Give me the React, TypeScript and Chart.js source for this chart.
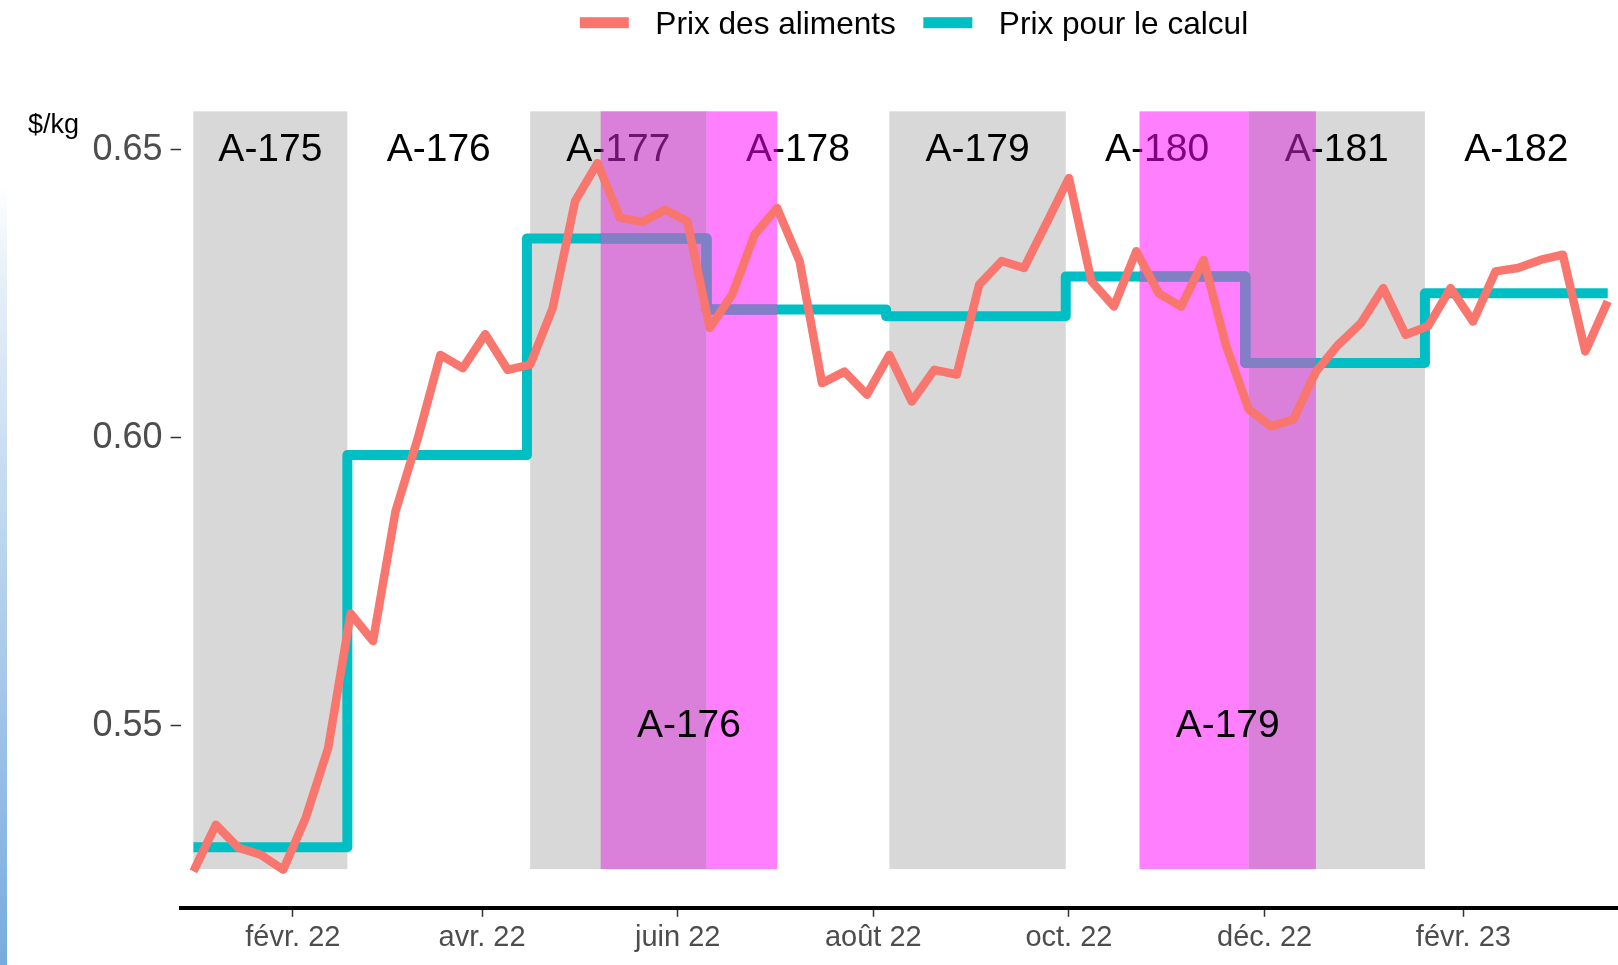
import React, { useEffect, useRef } from "react";
import { Chart, registerables } from "chart.js";

Chart.register(...registerables);

const FONT = "'Liberation Sans', Arial, Helvetica, sans-serif";

// ---- data ----
const priceDates = [
  "2022-01-01", "2022-01-08", "2022-01-15", "2022-01-22", "2022-01-29",
  "2022-02-05", "2022-02-12", "2022-02-19", "2022-02-26",
  "2022-03-05", "2022-03-12", "2022-03-19", "2022-03-26",
  "2022-04-02", "2022-04-09", "2022-04-16", "2022-04-23", "2022-04-30",
  "2022-05-07", "2022-05-14", "2022-05-21", "2022-05-28",
  "2022-06-04", "2022-06-11", "2022-06-18", "2022-06-25",
  "2022-07-02", "2022-07-09", "2022-07-16", "2022-07-23", "2022-07-30",
  "2022-08-06", "2022-08-13", "2022-08-20", "2022-08-27",
  "2022-09-03", "2022-09-10", "2022-09-17", "2022-09-24",
  "2022-10-01", "2022-10-08", "2022-10-15", "2022-10-22", "2022-10-29",
  "2022-11-05", "2022-11-12", "2022-11-19", "2022-11-26",
  "2022-12-03", "2022-12-10", "2022-12-17", "2022-12-24", "2022-12-31",
  "2023-01-07", "2023-01-14", "2023-01-21", "2023-01-28",
  "2023-02-04", "2023-02-11", "2023-02-18", "2023-02-25",
  "2023-03-04", "2023-03-11", "2023-03-18",
];
const priceValues = [
  0.5247, 0.5328, 0.5288, 0.5276, 0.525,
  0.534, 0.5461, 0.5695, 0.5647,
  0.5872, 0.6, 0.6144, 0.6121,
  0.618, 0.6118, 0.6127, 0.6225, 0.6411,
  0.6477, 0.6382, 0.6375, 0.6396,
  0.6376, 0.6191, 0.6249, 0.6353,
  0.6399, 0.6307, 0.6095, 0.6115, 0.6075,
  0.6144, 0.6063, 0.6118, 0.611,
  0.6266, 0.6307, 0.6295, 0.6373,
  0.6451, 0.6272, 0.6228, 0.6324, 0.6251,
  0.6228, 0.6309, 0.616, 0.605,
  0.602, 0.6032, 0.6115, 0.6162, 0.6199,
  0.626, 0.6179, 0.6194, 0.626,
  0.6202, 0.6289, 0.6295, 0.6309,
  0.6318, 0.615, 0.6237,
];

const calcDates = [
  "2022-01-01", "2022-02-18", "2022-04-15", "2022-06-10", "2022-08-05",
  "2022-09-30", "2022-11-25", "2023-01-20", "2023-03-18",
];
const calcValues = [0.5289, 0.597, 0.6346, 0.6223, 0.6211, 0.628, 0.613, 0.6251, 0.6251];

const periodNames = ["A-175", "A-176", "A-177", "A-178", "A-179", "A-180", "A-181", "A-182"];
const periodStarts = [
  "2022-01-01", "2022-02-19", "2022-04-16", "2022-06-11",
  "2022-08-06", "2022-10-01", "2022-11-26", "2023-01-21",
];
const periodEnds = [
  "2022-02-18", "2022-04-15", "2022-06-10", "2022-08-05",
  "2022-09-30", "2022-11-25", "2023-01-20", "2023-03-17",
];
const periodShaded = [true, false, true, false, true, false, true, false];

const appliedNames = ["A-176", "A-179"];
const appliedStarts = ["2022-05-08", "2022-10-23"];
const appliedEnds = ["2022-07-02", "2022-12-17"];

const bandRange = [0.5251, 0.6567];
const topLabelValue = 0.65;
const bottomLabelValue = 0.55;

const yTickValues = [0.55, 0.6, 0.65];
const xTickDates = [
  "2022-02-01", "2022-04-01", "2022-06-01", "2022-08-01",
  "2022-10-01", "2022-12-01", "2023-02-01",
];
const xTickLabels = ["févr. 22", "avr. 22", "juin 22", "août 22", "oct. 22", "déc. 22", "févr. 23"];

const seriesNames = ["Prix des aliments", "Prix pour le calcul"];
const seriesColors = ["#F8766D", "#00BFC4"];
const calcTintedColor = "#8280c4";

// ---- helpers ----
const ORIGIN = Date.UTC(2022, 0, 1);
function day(s: string): number {
  const [y, m, d] = s.split("-").map(Number);
  return (Date.UTC(y, m - 1, d) - ORIGIN) / 86400000;
}

const TEXT_DY = 0.5;

const bandsPlugin = {
  id: "bands",
  beforeDatasetsDraw(chart: any) {
    const { ctx, chartArea } = chart;
    const xs = chart.scales.x;
    const ys = chart.scales.y;
    const yTop = ys.getPixelForValue(bandRange[1]);
    const yBot = ys.getPixelForValue(bandRange[0]);
    ctx.save();
    ctx.beginPath();
    ctx.rect(chartArea.left, chartArea.top, chartArea.right - chartArea.left, chartArea.bottom - chartArea.top);
    ctx.clip();
    ctx.fillStyle = "rgba(127,127,127,0.3)";
    periodNames.forEach((_, i) => {
      if (!periodShaded[i]) return;
      const x0 = xs.getPixelForValue(day(periodStarts[i]));
      const x1 = xs.getPixelForValue(day(periodEnds[i]));
      ctx.fillRect(x0, yTop, x1 - x0, yBot - yTop);
    });
    ctx.restore();
  },
  afterDatasetDraw(chart: any, args: any) {
    if (args.index !== 0) return;
    const { ctx } = chart;
    const xs = chart.scales.x;
    const ys = chart.scales.y;
    const yTop = ys.getPixelForValue(bandRange[1]);
    const yBot = ys.getPixelForValue(bandRange[0]);
    ctx.save();
    // top period labels
    ctx.font = `39px ${FONT}`;
    ctx.fillStyle = "#000000";
    ctx.textAlign = "center";
    ctx.textBaseline = "middle";
    const ly = ys.getPixelForValue(topLabelValue) + TEXT_DY;
    periodNames.forEach((n, i) => {
      const mid = (day(periodStarts[i]) + day(periodEnds[i])) / 2;
      ctx.fillText(n, xs.getPixelForValue(mid), ly);
    });
    // magenta overlays
    const grayRanges = periodNames
      .map((_, i) => [day(periodStarts[i]), day(periodEnds[i]), periodShaded[i] ? 1 : 0])
      .filter((r) => r[2] === 1);
    appliedNames.forEach((_, i) => {
      const a0 = day(appliedStarts[i]);
      const a1 = day(appliedEnds[i]);
      const cuts = [a0, a1];
      grayRanges.forEach((g) => {
        if (g[0] > a0 && g[0] < a1) cuts.push(g[0]);
        if (g[1] > a0 && g[1] < a1) cuts.push(g[1]);
      });
      cuts.sort((p, q) => p - q);
      for (let k = 0; k < cuts.length - 1; k++) {
        const m = (cuts[k] + cuts[k + 1]) / 2;
        const inGray = grayRanges.some((g) => m >= g[0] && m <= g[1]);
        ctx.fillStyle = inGray ? "rgba(219,40,219,0.5)" : "rgba(255,0,255,0.5)";
        const x0 = xs.getPixelForValue(cuts[k]);
        const x1 = xs.getPixelForValue(cuts[k + 1]);
        ctx.fillRect(x0, yTop, x1 - x0, yBot - yTop);
      }
    });
    // calc line seen through the magenta overlay
    const pts = chart.getDatasetMeta(0).data;
    appliedNames.forEach((_, i) => {
      const x0 = xs.getPixelForValue(day(appliedStarts[i]));
      const x1 = xs.getPixelForValue(day(appliedEnds[i]));
      ctx.save();
      ctx.beginPath();
      ctx.rect(x0, yTop, x1 - x0, yBot - yTop);
      ctx.clip();
      ctx.beginPath();
      ctx.moveTo(pts[0].x, pts[0].y);
      for (let k = 1; k < pts.length; k++) {
        ctx.lineTo(pts[k].x, pts[k - 1].y);
        ctx.lineTo(pts[k].x, pts[k].y);
      }
      ctx.lineWidth = 10;
      ctx.lineJoin = "round";
      ctx.lineCap = "butt";
      ctx.strokeStyle = calcTintedColor;
      ctx.stroke();
      ctx.restore();
    });
    // bottom labels
    ctx.fillStyle = "#000000";
    const by = ys.getPixelForValue(bottomLabelValue) + TEXT_DY;
    appliedNames.forEach((n, i) => {
      const mid = (day(appliedStarts[i]) + day(appliedEnds[i])) / 2;
      ctx.fillText(n, xs.getPixelForValue(mid), by);
    });
    ctx.restore();
  },
  afterDraw(chart: any) {
    const { ctx } = chart;
    ctx.save();
    // legend
    ctx.font = `31.6px ${FONT}`;
    ctx.textBaseline = "alphabetic";
    ctx.textAlign = "left";
    const swW = 49;
    const gapText = 26.5;
    const gapItems = 27.5;
    const widths = seriesNames.map((s) => ctx.measureText(s).width);
    const total = widths.reduce((a, w) => a + swW + gapText + w, 0) + gapItems * (seriesNames.length - 1);
    let x = 914 - total / 2;
    seriesNames.forEach((s, i) => {
      ctx.fillStyle = seriesColors[i];
      ctx.fillRect(x, 17.2, swW, 11);
      ctx.fillStyle = "#000000";
      ctx.fillText(s, x + swW + gapText, 34);
      x += swW + gapText + widths[i] + gapItems;
    });
    // y unit
    ctx.font = `27px ${FONT}`;
    ctx.fillText("$/kg", 28, 133);
    ctx.restore();
  },
};

export default function App() {
  const ref = useRef<HTMLCanvasElement | null>(null);

  useEffect(() => {
    if (!ref.current) return;
    Chart.defaults.font.family = FONT;
    const chart = new Chart(ref.current, {
      type: "line",
      data: {
        datasets: [
          {
            label: seriesNames[1],
            data: calcDates.map((d, i) => ({ x: day(d), y: calcValues[i] })),
            borderColor: seriesColors[1],
            backgroundColor: seriesColors[1],
            borderWidth: 10,
            stepped: true,
            pointRadius: 0,
            borderJoinStyle: "round",
            borderCapStyle: "butt",
            fill: false,
            order: 2,
          },
          {
            label: seriesNames[0],
            data: priceDates.map((d, i) => ({ x: day(d), y: priceValues[i] })),
            borderColor: seriesColors[0],
            backgroundColor: seriesColors[0],
            borderWidth: 8.5,
            tension: 0,
            pointRadius: 0,
            borderJoinStyle: "round",
            borderCapStyle: "butt",
            fill: false,
            order: 1,
          },
        ],
      },
      options: {
        animation: false,
        responsive: true,
        maintainAspectRatio: false,
        layout: { padding: { top: 73, left: 0, right: 0, bottom: 0 }, autoPadding: false },
        plugins: { legend: { display: false }, tooltip: { enabled: false } },
        events: [],
        scales: {
          x: {
            type: "linear",
            min: -4,
            max: 444.2,
            afterBuildTicks: (s: any) => {
              s.ticks = xTickDates.map((d) => ({ value: day(d) }));
            },
            afterFit: (s: any) => {
              s.height = 57.2;
            },
            ticks: {
              callback: (_v: any, i: number) => xTickLabels[i],
              autoSkip: false,
              maxRotation: 0,
              minRotation: 0,
              font: { size: 29, family: FONT },
              color: "#4d4d4d",
              padding: 4,
            },
            grid: {
              drawOnChartArea: false,
              drawTicks: true,
              tickLength: 9,
              tickColor: "#333333",
              tickWidth: 1.5,
            },
            border: { display: true, color: "#000000", width: 4 },
          },
          y: {
            type: "linear",
            min: 0.51838,
            max: 0.66336,
            afterBuildTicks: (s: any) => {
              s.ticks = yTickValues.map((v) => ({ value: v }));
            },
            afterFit: (s: any) => {
              s.width = 180.6;
            },
            ticks: {
              callback: (v: any) => Number(v).toFixed(2),
              font: { size: 36, family: FONT },
              color: "#4d4d4d",
              padding: 8,
            },
            grid: {
              drawOnChartArea: false,
              drawTicks: true,
              tickLength: 10,
              tickColor: "#333333",
              tickWidth: 1.5,
            },
            border: { display: false },
          },
        },
      },
      plugins: [bandsPlugin],
    } as any);
    return () => chart.destroy();
  }, []);

  return (
    <div style={{ position: "fixed", left: 0, top: 0, width: "100vw", height: "100vh", background: "#ffffff", overflow: "hidden" }}>
      <canvas ref={ref} />
      <div
        style={{
          position: "absolute",
          left: 0,
          top: 0,
          width: 7,
          height: "100%",
          pointerEvents: "none",
          background: "linear-gradient(to bottom, #ffffff 0px, #ffffff 185px, #e6eff8 280px, #78abde 100%)",
        }}
      />
    </div>
  );
}
